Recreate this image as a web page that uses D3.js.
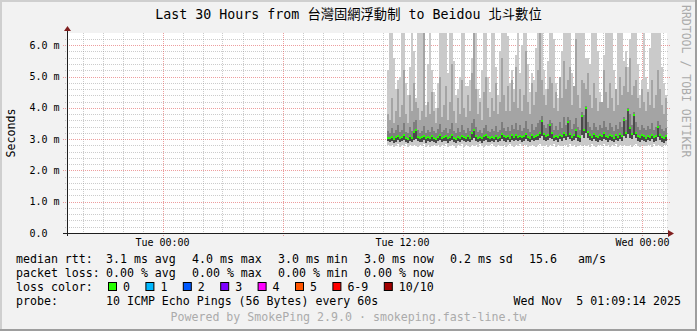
<!DOCTYPE html>
<html>
<head>
<meta charset="utf-8">
<script src="https://cdn.jsdelivr.net/npm/d3@7"></script>
<style>
  body { margin: 0; background: #f2f2f2; }
  svg text { font-family: "DejaVu Sans Mono", "Noto Sans CJK TC", monospace; white-space: pre; }
</style>
</head>
<body>
<svg id="chart" width="697" height="331"></svg>
<script>
// ---------------------------------------------
// data (values in ms)
const titleText = "Last 30 Hours from 台灣固網浮動制 to Beidou 北斗數位";
const timeStart = new Date(2025, 10, 3, 19, 13, 30);
const timeEnd = new Date(2025, 10, 5, 1, 13, 30);
const dataStart = new Date(2025, 10, 4, 11, 13, 30);
const stepMinutes = 6;
const yTicks = [0, 1, 2, 3, 4, 5, 6];

const rttMedian = [
  3.05,3.02,3.08,3.00,3.06,3.10,3.03,3.07,3.12,3.04,3.01,3.09,3.05,3.22,3.30,3.08,3.03,3.06,3.11,3.02,
  3.07,3.04,3.10,3.05,3.00,3.08,3.12,3.03,3.06,3.09,3.02,3.07,3.14,3.05,3.01,3.08,3.04,3.11,3.06,3.03,
  3.09,3.05,3.18,3.28,3.10,3.04,3.07,3.02,3.09,3.13,3.06,3.03,3.08,3.05,3.11,3.04,3.07,3.15,3.09,3.06,
  3.10,3.05,3.12,3.08,3.14,3.07,3.11,3.06,3.09,3.16,3.08,3.04,3.12,3.07,3.10,3.13,3.20,3.58,3.15,3.09,
  3.12,3.45,3.18,3.08,3.11,3.06,3.14,3.09,3.20,3.12,3.55,3.16,3.08,3.13,3.28,3.10,3.07,3.74,3.30,4.00,
  3.22,3.12,3.08,3.15,3.10,3.06,3.13,3.09,3.18,3.11,3.07,3.14,3.10,3.05,3.12,3.08,3.16,3.10,3.60,3.20,
  3.93,3.35,3.15,3.77,3.20,3.10,3.07,3.13,3.09,3.05,3.11,3.08,3.14,3.06,3.10,3.40,3.12,3.07,3.04,3.09
];
const rttMin = [
  2.80,2.77,2.82,2.75,2.79,2.83,2.76,2.81,2.78,2.84,2.74,2.80,2.77,2.82,2.79,2.75,2.81,2.78,2.83,2.76,
  2.80,2.74,2.79,2.82,2.77,2.81,2.75,2.80,2.78,2.84,2.76,2.79,2.82,2.77,2.73,2.80,2.78,2.83,2.76,2.81,
  2.79,2.75,2.82,2.78,2.80,2.76,2.83,2.79,2.74,2.81,2.77,2.80,2.84,2.78,2.75,2.82,2.79,2.77,2.81,2.76,
  2.80,2.83,2.78,2.75,2.81,2.79,2.84,2.77,2.80,2.82,2.76,2.79,2.81,2.78,2.74,2.80,2.83,2.77,2.79,2.82,
  2.76,2.80,2.78,2.84,2.75,2.81,2.79,2.77,2.82,2.80,2.76,2.83,2.78,2.81,2.74,2.79,2.82,2.77,2.80,2.78,
  2.81,2.76,2.83,2.79,2.75,2.80,2.82,2.77,2.84,2.78,2.80,2.76,2.81,2.79,2.83,2.75,2.80,2.78,2.82,2.77,
  2.79,2.81,2.76,2.80,2.83,2.78,2.75,2.81,2.79,2.77,2.82,2.80,2.76,2.84,2.78,2.81,2.79,2.75,2.80,2.82
];
const rttLow = [
  2.93,2.90,2.95,2.89,2.92,2.96,2.91,2.94,2.97,2.92,2.88,2.95,2.91,2.98,3.00,2.93,2.90,2.92,2.96,2.89,
  2.94,2.91,2.95,2.92,2.88,2.93,2.97,2.90,2.93,2.95,2.89,2.94,2.98,2.92,2.88,2.94,2.91,2.96,2.93,2.90,
  2.95,2.92,2.98,3.02,2.95,2.91,2.94,2.89,2.95,2.97,2.92,2.90,2.94,2.91,2.96,2.90,2.93,2.99,2.95,2.92,
  2.96,2.91,2.97,2.94,2.98,2.93,2.96,2.92,2.95,3.00,2.94,2.90,2.97,2.93,2.96,2.98,3.02,3.10,2.98,2.94,
  2.97,3.05,3.00,2.93,2.96,2.91,2.99,2.94,3.02,2.97,3.08,3.00,2.93,2.97,3.04,2.95,2.92,3.12,3.02,3.20,
  3.03,2.96,2.93,2.99,2.95,2.91,2.97,2.94,3.01,2.96,2.92,2.98,2.95,2.90,2.97,2.93,3.00,2.95,3.10,3.02,
  3.15,3.05,2.99,3.12,3.02,2.95,2.92,2.98,2.94,2.90,2.96,2.93,2.99,2.91,2.95,3.08,2.97,2.92,2.89,2.94
];
const rttP7 = [
  3.25,3.20,3.35,3.18,3.28,3.45,3.22,3.30,3.50,3.24,3.19,3.38,3.26,3.55,3.60,3.30,3.21,3.27,3.42,3.20,
  3.30,3.24,3.40,3.27,3.18,3.33,3.48,3.22,3.29,3.36,3.20,3.31,3.52,3.25,3.19,3.34,3.23,3.44,3.28,3.21,
  3.35,3.26,3.50,3.65,3.38,3.24,3.30,3.20,3.37,3.46,3.27,3.22,3.33,3.25,3.41,3.23,3.30,3.55,3.35,3.26,
  3.40,3.26,3.45,3.32,3.50,3.29,3.44,3.27,3.36,3.58,3.31,3.24,3.47,3.30,3.38,3.52,3.60,3.75,3.45,3.35,
  3.48,3.62,3.50,3.30,3.42,3.28,3.55,3.36,3.70,3.46,3.72,3.60,3.32,3.48,3.68,3.38,3.30,3.85,3.78,4.05,
  3.55,3.40,3.30,3.50,3.38,3.28,3.46,3.35,3.58,3.40,3.30,3.52,3.38,3.27,3.45,3.33,3.55,3.40,3.70,3.62,
  4.00,3.80,3.45,3.85,3.55,3.38,3.30,3.46,3.35,3.28,3.42,3.32,3.50,3.29,3.40,3.58,3.44,3.32,3.26,3.35
];
const rttP9 = [
  3.8,3.6,4.3,3.5,3.9,4.6,3.7,4.1,5.2,3.8,3.5,4.4,3.9,4.8,4.2,4.0,3.6,3.9,6.6,3.7,
  4.2,3.8,4.5,3.9,3.5,4.0,5.0,3.7,4.1,4.7,3.6,4.2,5.4,3.9,3.5,4.3,3.8,4.9,4.0,3.7,
  4.4,3.9,5.1,6.5,4.6,3.8,4.2,3.6,4.5,5.0,4.0,3.7,4.3,3.9,4.8,3.8,4.2,5.6,4.4,3.9,
  4.7,3.9,4.9,4.2,5.3,4.0,4.6,3.9,4.4,5.8,4.2,3.8,4.8,4.1,4.5,5.2,6.8,4.9,4.4,4.1,
  4.6,5.0,4.8,4.0,4.5,3.9,5.0,4.3,5.5,4.6,4.9,5.3,4.1,4.7,6.2,4.4,4.0,4.9,4.8,4.6,
  5.1,4.4,4.0,4.8,4.3,3.9,4.2,4.2,5.2,4.5,4.0,4.8,4.3,3.9,4.6,4.1,5.0,4.4,4.7,5.3,
  4.5,5.6,4.4,4.7,4.9,4.3,4.0,4.6,4.2,3.9,4.5,4.1,4.9,4.0,4.4,5.2,4.6,4.1,3.8,4.3
];
const rttMax = [
  5.2,7.0,6.8,5.6,4.6,4.9,5.0,6.9,7.2,4.8,4.4,5.3,6.6,5.8,4.3,6.9,7.4,6.5,6.9,4.1,
  5.4,7.1,5.2,4.5,4.0,4.8,6.7,7.3,6.9,7.0,5.1,6.6,7.2,5.5,4.4,4.6,5.0,6.8,7.0,4.7,
  4.7,4.9,5.6,7.1,6.5,4.6,4.3,5.2,7.0,6.7,5.0,4.5,6.9,7.3,5.3,4.4,5.8,6.5,7.2,7.0,
  6.3,4.8,5.2,4.6,5.7,7.0,5.1,6.0,7.2,6.9,5.4,4.5,5.1,4.9,5.9,7.1,7.3,6.8,5.2,4.6,
  5.5,6.7,7.1,6.2,4.8,4.3,5.0,5.8,7.0,7.2,6.9,6.6,5.1,4.7,6.6,6.8,7.1,7.0,6.7,5.6,
  5.6,5.4,7.2,6.9,7.0,5.8,4.5,4.2,5.7,6.8,7.3,7.0,6.6,5.2,4.6,6.9,7.1,6.8,5.5,5.8,
  5.3,6.2,7.0,7.2,6.9,5.4,4.4,4.9,6.7,5.0,4.6,5.9,7.1,6.9,7.2,6.5,7.0,5.3,4.8,4.4
];

const rttStats = ["3.1 ms avg", "4.0 ms max", "3.0 ms min", "3.0 ms now", "0.2 ms sd", "15.6"];
const lossStats = ["0.00 % avg", "0.00 % max", "0.00 % min", "0.00 % now"];
const lossLabels = ["0", "1", "2", "3", "4", "5", "6-9", "10/10"];
const lossFills = ["#26ff00", "#00b8ff", "#0059ff", "#7e00ff", "#ff00ff", "#ff5500", "#ff0000", "#a10000"];
const probeText = "10 ICMP Echo Pings (56 Bytes) every 60s";
const stampText = "Wed Nov  5 01:09:14 2025";
const footerText = "Powered by SmokePing 2.9.0 · smokeping.fast-line.tw";

// ---------------------------------------------
var svg = d3.select("#chart"),
    width = 697, height = 331,
    margin = { left: 67, right: 30, top: 33, bottom: 98 },
    plotRight = width - margin.right,
    plotBottom = height - margin.bottom;

var x = d3.scaleTime().domain([timeStart, timeEnd]).range([margin.left, plotRight]);
var y = d3.scaleLinear().domain([0, 6.39]).range([plotBottom, margin.top]);
var px = (v) => Math.round(v) + 0.5;

// background and the 3d frame
svg.append("rect").attr("width", width).attr("height", height).attr("fill", "#f2f2f2");
svg.append("rect").attr("x", 0).attr("y", 0).attr("width", width).attr("height", 2).attr("fill", "#cfcfcf");
svg.append("rect").attr("x", 0).attr("y", 0).attr("width", 2).attr("height", height).attr("fill", "#cfcfcf");
svg.append("rect").attr("x", 0).attr("y", height - 2).attr("width", width).attr("height", 2).attr("fill", "#9e9e9e");
svg.append("rect").attr("x", width - 2).attr("y", 0).attr("width", 2).attr("height", height).attr("fill", "#9e9e9e");

svg.append("rect")
    .attr("x", margin.left).attr("y", margin.top)
    .attr("width", plotRight - margin.left).attr("height", plotBottom - margin.top)
    .attr("fill", "#ffffff");

// ---------------------------------------------
// grid (minor grey dots, major red dots)
var grid = svg.append("g").attr("stroke-dasharray", "1,1").attr("stroke-width", 1);
var minorY = d3.range(1, 32).filter((i) => i % 5 != 0).map((i) => i * 0.2);
grid.selectAll(".hminor").data(minorY).join("line")
    .attr("x1", margin.left - 2).attr("x2", plotRight + 2)
    .attr("y1", (d) => px(y(d))).attr("y2", (d) => px(y(d)))
    .attr("stroke", "rgba(143,143,143,0.45)");
var hoursMinor = d3.timeHour.every(1).range(timeStart, timeEnd).filter((d) => d.getHours() % 6 != 0);
grid.selectAll(".vminor").data(hoursMinor).join("line")
    .attr("x1", (d) => px(x(d))).attr("x2", (d) => px(x(d)))
    .attr("y1", margin.top).attr("y2", plotBottom + 2)
    .attr("stroke", "rgba(143,143,143,0.45)");
grid.selectAll(".hmajor").data(yTicks.slice(1)).join("line")
    .attr("x1", margin.left - 4).attr("x2", plotRight + 4)
    .attr("y1", (d) => px(y(d))).attr("y2", (d) => px(y(d)))
    .attr("stroke", "rgba(222,79,79,0.55)");
var hoursMajor = d3.timeHour.every(6).range(timeStart, timeEnd);
grid.selectAll(".vmajor").data(hoursMajor).join("line")
    .attr("x1", (d) => px(x(d))).attr("x2", (d) => px(x(d)))
    .attr("y1", margin.top).attr("y2", plotBottom + 4)
    .attr("stroke", "rgba(222,79,79,0.55)");

// ---------------------------------------------
// smoke bands + median
svg.append("clipPath").attr("id", "plot-clip").append("rect")
    .attr("x", margin.left).attr("y", margin.top)
    .attr("width", plotRight - margin.left).attr("height", plotBottom - margin.top);

var rows = rttMedian.map((m, i) => ({
    t0: d3.timeMinute.offset(dataStart, i * stepMinutes),
    t1: d3.timeMinute.offset(dataStart, (i + 1) * stepMinutes),
    min: rttMin[i], low: rttLow[i], med: m, p7: rttP7[i], p9: rttP9[i], max: rttMax[i]
}));

var smoke = svg.append("g").attr("clip-path", "url(#plot-clip)").attr("shape-rendering", "crispEdges");
var bands = [
    { lo: "min", hi: "max", color: "#cacaca" },
    { lo: "low", hi: "p9", color: "#a4a4a4" },
    { lo: "low", hi: "p7", color: "#7e7e7e" },
    { lo: "low", hi: "med", color: "#4a4a4a" }
];
bands.forEach((b) => {
    smoke.append("g").selectAll("rect").data(rows).join("rect")
        .attr("x", (d) => Math.round(x(d.t0)))
        .attr("width", (d) => Math.round(x(d.t1)) - Math.round(x(d.t0)))
        .attr("y", (d) => Math.round(y(d[b.hi])))
        .attr("height", (d) => Math.round(y(d[b.lo])) - Math.round(y(d[b.hi])))
        .attr("fill", b.color);
});

// median: one short dash per step, coloured by loss (all 0 here)
smoke.append("g").selectAll("rect").data(rows).join("rect")
    .attr("x", (d) => Math.round(x(d.t0)))
    .attr("width", (d) => Math.round(x(d.t1)) - Math.round(x(d.t0)))
    .attr("y", (d) => Math.round(y(d.med)) - 1)
    .attr("height", 2)
    .attr("fill", lossFills[0]);

// ---------------------------------------------
// axes + arrows
svg.append("line")
    .attr("x1", margin.left - 4).attr("x2", plotRight + 2)
    .attr("y1", px(plotBottom)).attr("y2", px(plotBottom))
    .attr("stroke", "#1f1f1f");
svg.append("line")
    .attr("x1", px(margin.left)).attr("x2", px(margin.left))
    .attr("y1", plotBottom + 3).attr("y2", margin.top - 3)
    .attr("stroke", "#1f1f1f");
svg.append("path")
    .attr("d", `M${margin.left - 3},${margin.top - 2}L${margin.left + 4},${margin.top - 2}L${margin.left + 0.5},${margin.top - 7}Z`)
    .attr("fill", "#801f1f");
svg.append("path")
    .attr("d", `M${plotRight + 1},${plotBottom - 3}L${plotRight + 1},${plotBottom + 4}L${plotRight + 7},${plotBottom + 0.5}Z`)
    .attr("fill", "#801f1f");

svg.append("g").selectAll("text").data(yTicks).join("text")
    .attr("x", 29.5)
    .attr("y", (d) => y(d) + 3.5)
    .attr("font-size", "10px")
    .attr("fill", "#000")
    .text((d) => d === 0 ? "0.0" : d3.format(".1f")(d) + " m");

var timeLabels = d3.timeHour.every(12).range(timeStart, timeEnd);
svg.append("g").selectAll("text").data(timeLabels).join("text")
    .attr("x", (d) => x(d))
    .attr("y", plotBottom + 13)
    .attr("text-anchor", "middle")
    .attr("font-size", "10px")
    .text((d) => d3.timeFormat("%a %H:%M")(d));

// ---------------------------------------------
// titles
svg.append("text")
    .attr("x", width / 2).attr("y", 19)
    .attr("text-anchor", "middle")
    .attr("font-size", "13.3px")
    .text(titleText);
svg.append("text")
    .attr("transform", "translate(15,133) rotate(-90)")
    .attr("text-anchor", "middle")
    .attr("font-size", "11.6px")
    .text("Seconds");
svg.append("text")
    .attr("transform", "translate(682,5) rotate(90)")
    .attr("font-size", "11.5px")
    .attr("fill", "#ababab")
    .text("RRDTOOL / TOBI OETIKER");

// ---------------------------------------------
// legend
var legend = svg.append("g").attr("font-size", "11.6px").attr("fill", "#000");
var cols = [106, 192, 278, 364, 450, 529];
var rowY = [263, 277, 291, 305];

legend.append("text").attr("x", 16).attr("y", rowY[0]).text("median rtt:");
legend.selectAll(".rtt").data(rttStats).join("text")
    .attr("x", (d, i) => cols[i]).attr("y", rowY[0]).text((d) => d);
legend.append("text").attr("x", 578).attr("y", rowY[0]).text("am/s");

legend.append("text").attr("x", 16).attr("y", rowY[1]).text("packet loss:");
legend.selectAll(".loss").data(lossStats).join("text")
    .attr("x", (d, i) => cols[i]).attr("y", rowY[1]).text((d) => d);

legend.append("text").attr("x", 16).attr("y", rowY[2]).text("loss color:");
var bx = 108;
lossLabels.forEach((lab, i) => {
    legend.append("rect")
        .attr("x", bx + 0.5).attr("y", rowY[2] - 8.5)
        .attr("width", 8).attr("height", 8)
        .attr("fill", lossFills[i]).attr("stroke", "#000");
    legend.append("text").attr("x", bx + 15).attr("y", rowY[2]).text(lab);
    bx = bx + 15 + lab.length * 7 + 15.4;
});

legend.append("text").attr("x", 16).attr("y", rowY[3]).text("probe:");
legend.append("text").attr("x", cols[0]).attr("y", rowY[3]).text(probeText);
legend.append("text").attr("x", 681).attr("y", rowY[3]).attr("text-anchor", "end").text(stampText);

svg.append("text")
    .attr("x", width / 2).attr("y", 321)
    .attr("text-anchor", "middle")
    .attr("font-size", "11.6px")
    .attr("fill", "#ababab")
    .text(footerText);
</script>
</body>
</html>
